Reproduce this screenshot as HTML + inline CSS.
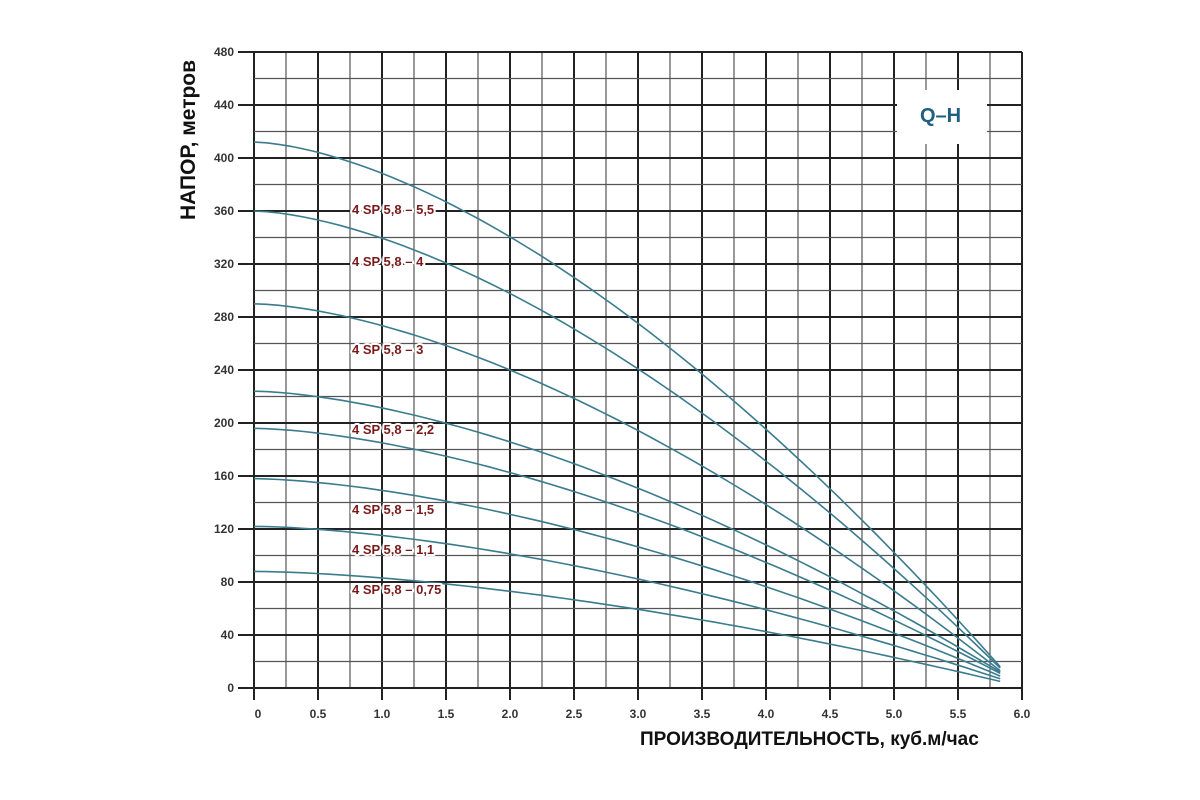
<!DOCTYPE html>
<html><head><meta charset="utf-8"><style>
body{margin:0;background:#fff;}
svg{display:block;font-family:"Liberation Sans",sans-serif;}
</style></head><body>
<svg id="s" width="1200" height="800" viewBox="0 0 1200 800">
<g id="grid"></g>
<rect x="897" y="90" width="90" height="54" fill="#fff"/>
<g id="curves" fill="none" stroke="#3a7c8e" stroke-width="1.6"></g>
<g font-size="12" font-weight="bold" fill="#333" id="lab"></g>
<g font-size="13" font-weight="bold" fill="#7a1a1a" stroke="#fff" stroke-width="4" paint-order="stroke" stroke-linejoin="round">
<text x="352" y="214">4 SP 5,8 – 5,5</text>
<text x="352" y="266">4 SP 5,8 – 4</text>
<text x="352" y="354">4 SP 5,8 – 3</text>
<text x="352" y="434">4 SP 5,8 – 2,2</text>
<text x="352" y="514">4 SP 5,8 – 1,5</text>
<text x="352" y="554">4 SP 5,8 – 1,1</text>
<text x="352" y="594">4 SP 5,8 – 0,75</text>
</g>
<text x="920" y="122" font-size="20" font-weight="bold" fill="#1f5f80">Q–H</text>
<text x="640" y="745" font-size="19" font-weight="bold" fill="#111">ПРОИЗВОДИТЕЛЬНОСТЬ, куб.м/час</text>
<text transform="translate(195,220) rotate(-90)" font-size="21" font-weight="bold" fill="#111">НАПОР, метров</text>
</svg>
<script>
var X0=254,X1=1022,Y0=688,Y1=52;
function px(q){return X0+(X1-X0)*q/6;}function py(h){return Y0-(Y0-Y1)*h/480;}
var g=document.getElementById('grid'),s='';
for(var i=0;i<=24;i++){var x=px(i*0.25),maj=i%2==0;s+='<line x1="'+x+'" y1="'+Y1+'" x2="'+x+'" y2="'+(maj?700:Y0)+'" stroke="'+(maj?'#222':'#555')+'" stroke-width="'+(maj?2:1.2)+'"/>';}
for(var j=0;j<=24;j++){var y=py(j*20),maj=j%2==0;s+='<line x1="'+(maj?238:X0)+'" y1="'+y+'" x2="'+X1+'" y2="'+y+'" stroke="'+(maj?'#222':'#555')+'" stroke-width="'+(maj?2:1.2)+'"/>';}
g.innerHTML=s;
var l='';
for(var j=0;j<=12;j++){l+='<text x="234" y="'+(py(j*40)+4)+'" text-anchor="end">'+(j*40)+'</text>';}
var xl=['0','0.5','1.0','1.5','2.0','2.5','3.0','3.5','4.0','4.5','5.0','5.5','6.0'];
for(var i=0;i<=12;i++){l+='<text x="'+(px(i*0.5)+(i==0?4:0))+'" y="718" text-anchor="middle">'+xl[i]+'</text>';}
document.getElementById('lab').innerHTML=l;
var H=[[412,16],[360,15],[290,13],[224,12],[196,11],[158,9],[122,7],[88,5]],c='';
H.forEach(function(h){var d='';for(var k=0;k<=60;k++){var q=5.83*k/60;var v=h[0]-(h[0]-h[1])*Math.pow(q/5.83,1.6);d+=(k?'L':'M')+px(q).toFixed(1)+' '+py(v).toFixed(1);}c+='<path d="'+d+'"/>';});
document.getElementById('curves').innerHTML=c;
</script>
</body></html>
